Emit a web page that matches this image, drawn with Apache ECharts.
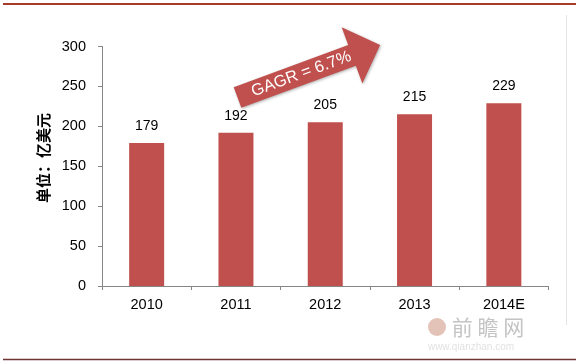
<!DOCTYPE html>
<html>
<head>
<meta charset="utf-8">
<script src="https://cdn.jsdelivr.net/npm/echarts@6/dist/echarts.min.js"></script>
<style>
html,body{margin:0;padding:0;background:#fff;}
#c{width:576px;height:363px;}
</style>
</head>
<body>
<div id="c"></div>
<script>
var categories = ['2010', '2011', '2012', '2013', '2014E'];
var values = [179, 192, 205, 215, 229];
var yTicks = [0, 50, 100, 150, 200, 250, 300];
var unitLabel = '单位：亿美元';
var cagrLabel = 'GAGR = 6.7%';

var chart = echarts.init(document.getElementById('c'), null, {renderer: 'canvas'});
var barColor = '#C0504D';
var font = '"Liberation Sans", Arial, sans-serif';

var arrowAngle = 20.2 * Math.PI / 180;

chart.setOption({
  animation: false,
  backgroundColor: '#fff',
  grid: {left: 102, right: 27.5, top: 46.5, bottom: 77, containLabel: false},
  xAxis: {
    type: 'category',
    data: categories,
    axisLine: {lineStyle: {color: '#868686', width: 1}},
    axisTick: {show: true, alignWithLabel: false, length: 4, lineStyle: {color: '#868686'}},
    axisLabel: {color: '#000', fontSize: 14.5, fontFamily: font, margin: 11}
  },
  yAxis: {
    type: 'value',
    min: yTicks[0],
    max: yTicks[yTicks.length - 1],
    interval: yTicks[1] - yTicks[0],
    splitLine: {show: false},
    axisLine: {show: true, lineStyle: {color: '#868686', width: 1}},
    axisTick: {show: true, length: 4, lineStyle: {color: '#868686'}},
    axisLabel: {color: '#000', fontSize: 14.5, fontFamily: font, margin: 16}
  },
  series: [{
    type: 'bar',
    data: values,
    barWidth: 35,
    itemStyle: {color: barColor},
    label: {show: true, position: 'top', distance: 10, color: '#000', fontSize: 14, fontFamily: font}
  }],
  graphic: [
    {type: 'line', shape: {x1: 3, y1: 4, x2: 576, y2: 4}, style: {stroke: '#A83A2C', lineWidth: 2}},
    {type: 'line', shape: {x1: 3, y1: 359.5, x2: 576, y2: 359.5}, style: {stroke: '#6E3434', lineWidth: 1.5}},
    {type: 'line', shape: {x1: 566.5, y1: 15, x2: 566.5, y2: 325}, style: {stroke: '#E4E4E4', lineWidth: 1}},
    {
      type: 'text', x: 43, y: 158, rotation: Math.PI / 2,
      style: {text: unitLabel, font: 'bold 15px "Noto Sans CJK SC", sans-serif', fill: '#000', textAlign: 'center', textVerticalAlign: 'middle'}
    },
    {
      type: 'group', x: 237.5, y: 97.5, rotation: arrowAngle,
      children: [
        {type: 'polygon', shape: {points: [[0, -11], [122, -11], [122, -30], [152, 0], [122, 30], [122, 11], [0, 11]]},
         style: {fill: barColor, shadowBlur: 3, shadowColor: 'rgba(0,0,0,0.3)', shadowOffsetX: 1, shadowOffsetY: 1}},
        {type: 'text', x: 68, y: 0, style: {text: cagrLabel, font: '16.5px ' + font, fill: '#fff', textAlign: 'center', textVerticalAlign: 'middle'}}
      ]
    },
    {type: 'circle', shape: {cx: 437, cy: 327, r: 9}, style: {fill: '#E3C2B8'}},
    {type: 'text', x: 488, y: 327, style: {text: '前 瞻 网', font: '21px "Noto Sans CJK SC", sans-serif', fill: '#C4C4C4', textAlign: 'center', textVerticalAlign: 'middle'}},
    {type: 'text', x: 471, y: 347, style: {text: 'www.qianzhan.com', font: '10px ' + font, fill: '#E2E2E2', textAlign: 'center', textVerticalAlign: 'middle'}}
  ]
});
</script>
</body>
</html>
